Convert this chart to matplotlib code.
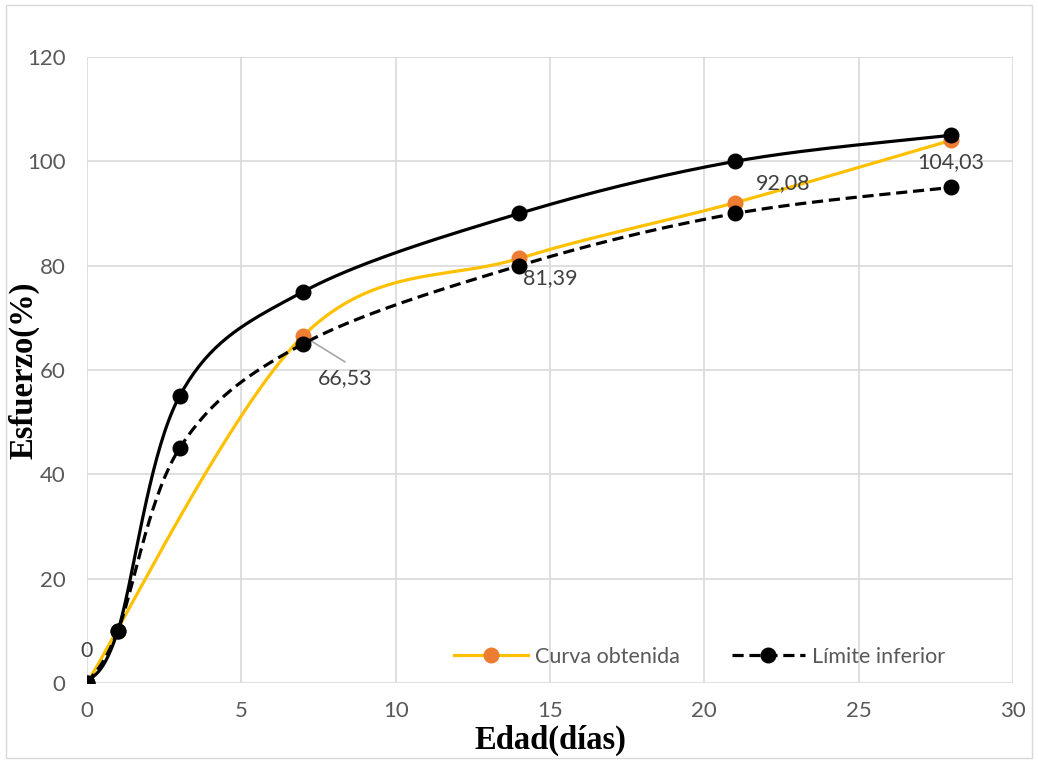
import numpy as np
import matplotlib
matplotlib.use("Agg")
import matplotlib.pyplot as plt
from matplotlib.patches import Rectangle

# data
dias_obtenida = [0, 7, 14, 21, 28]
curva_obtenida = [0, 66.53, 81.39, 92.08, 104.03]
etiquetas = ["0", "66,53", "81,39", "92,08", "104,03"]

dias_limites = [0, 1, 3, 7, 14, 21, 28]
limite_superior = [0, 10, 55, 75, 90, 100, 105]
limite_inferior = [0, 10, 45, 65, 80, 90, 95]

x_ticks = [0, 5, 10, 15, 20, 25, 30]
y_ticks = [0, 20, 40, 60, 80, 100, 120]


def smooth(xs, ys, n=40):
    # Excel-like smoothed line: cubic bezier with control points from neighbours
    xs = np.asarray(xs, float)
    ys = np.asarray(ys, float)
    px = np.concatenate([[xs[0]], xs, [xs[-1]]])
    py = np.concatenate([[ys[0]], ys, [ys[-1]]])
    out_x, out_y = [], []
    t = np.linspace(0, 1, n)
    for i in range(1, len(px) - 2):
        p0 = np.array([px[i], py[i]])
        p3 = np.array([px[i + 1], py[i + 1]])
        c1 = p0 + (np.array([px[i + 1], py[i + 1]]) - np.array([px[i - 1], py[i - 1]])) / 6
        c2 = p3 - (np.array([px[i + 2], py[i + 2]]) - np.array([px[i], py[i]])) / 6
        b = ((1 - t) ** 3)[:, None] * p0 + (3 * (1 - t) ** 2 * t)[:, None] * c1 \
            + (3 * (1 - t) * t ** 2)[:, None] * c2 + (t ** 3)[:, None] * p3
        out_x.extend(b[:, 0])
        out_y.extend(b[:, 1])
    return out_x, out_y


plt.rcParams['font.family'] = ['Lato', 'DejaVu Sans']

fig = plt.figure(figsize=(10.38, 7.63), dpi=100)
ax = fig.add_axes([0.0838, 0.1049, 0.8921, 0.8204])

fig.patches.append(Rectangle((0.006, 0.006), 0.988, 0.988, transform=fig.transFigure,
                             fill=False, edgecolor='#D9D9D9', linewidth=1))

yellow = '#FFC000'
orange = '#ED7D31'

sx, sy = smooth(dias_obtenida, curva_obtenida)
ax.plot(sx, sy, color=yellow, lw=2.3, zorder=3)
ax.plot(dias_obtenida, curva_obtenida, 'o', color=orange, ms=10.5, zorder=4)

sx, sy = smooth(dias_limites, limite_superior)
ax.plot(sx, sy, color='black', lw=2.3, zorder=5)
ax.plot(dias_limites, limite_superior, 'o', color='black', ms=10.5, zorder=6)

sx, sy = smooth(dias_limites, limite_inferior)
ax.plot(sx, sy, color='black', lw=2.3, dashes=(3.5, 1.8), zorder=5)
ax.plot(dias_limites, limite_inferior, 'o', color='black', ms=10.5, zorder=6)

# legend handles
h1, = ax.plot([], [], color=yellow, lw=2.3, marker='o', mfc=orange, mec=orange, ms=10.5)
h2, = ax.plot([], [], color='black', lw=2.3, dashes=(3.5, 1.8), marker='o', ms=10.5)
ax.legend([h1, h2], ['Curva obtenida', 'Límite inferior'], loc='lower right',
          bbox_to_anchor=(0.948, -0.005), ncol=2, frameon=False, fontsize=15.5,
          handlelength=3.4, columnspacing=2.4, handletextpad=0.35, labelcolor='#595959')

# data labels
offsets = [(0, 32), (42, -42), (31, -20), (48, 20), (0, -22)]
for x, y, lab, off in zip(dias_obtenida, curva_obtenida, etiquetas, offsets):
    ax.annotate(lab, (x, y), xytext=off, textcoords='offset pixels',
                ha='center', va='center', fontsize=15.5, color='#404040', zorder=7)
ax.annotate('', (dias_obtenida[1], curva_obtenida[1]), xytext=(42, -26),
            textcoords='offset pixels',
            arrowprops=dict(arrowstyle='-', color='#A6A6A6', lw=1.2, shrinkA=0, shrinkB=0))

ax.set_xlim(0, 30)
ax.set_ylim(0, 120)
ax.set_xticks(x_ticks)
ax.set_yticks(y_ticks)
ax.tick_params(length=0, labelsize=16, labelcolor='#595959')
ax.tick_params(axis='y', pad=15.5)
ax.tick_params(axis='x', pad=13)
ax.grid(True, color='#D9D9D9', lw=1.2)
ax.set_axisbelow(True)
for s in ax.spines.values():
    s.set_visible(False)

ax.set_xlabel('Edad(días)', family='Liberation Serif', fontweight='bold', fontsize=23.5)
ax.set_ylabel('Esfuerzo(%)', family='Liberation Serif', fontweight='bold', fontsize=23.5)
ax.xaxis.set_label_coords(0.5, -0.091)
ax.yaxis.set_label_coords(-0.068, 0.5)
ax.xaxis.label.set_va('center')
ax.yaxis.label.set_va('center')

fig.savefig('out.png', dpi=100)
